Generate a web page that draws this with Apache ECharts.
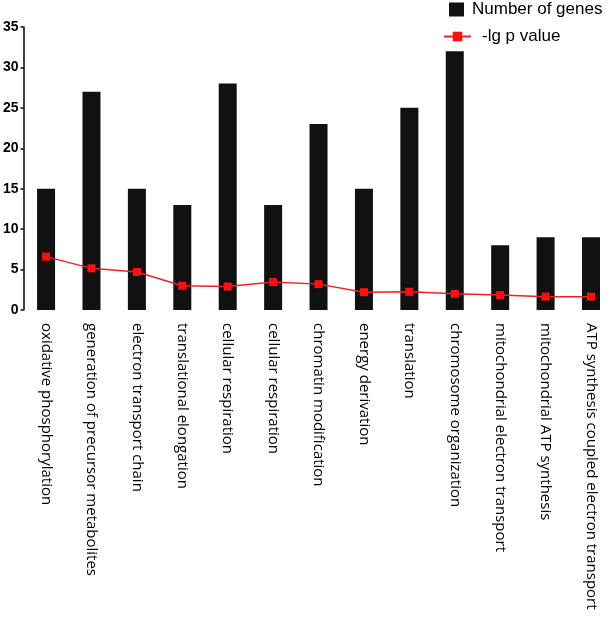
<!DOCTYPE html>
<html><head><meta charset="utf-8">
<script src="https://cdn.jsdelivr.net/npm/echarts@6/dist/echarts.min.js"></script>
<style>html,body{margin:0;padding:0;background:#fff}#c{width:607px;height:631px}</style>
</head><body><div id="c"></div>
<script>
const categories = ['oxidative phosphorylation','generation of precursor metabolites','electron transport chain','translational elongation','cellular respiration','cellular respiration','chromatin modification','energy derivation','translation','chromosome organization','mitochondrial electron transport','mitochondrial ATP synthesis','ATP synthesis coupled electron transport'];
const geneCounts = [15, 27, 15, 13, 28, 13, 23, 15, 25, 32, 8, 9, 9];
const negLogP = [6.6, 5.15, 4.7, 3.0, 2.9, 3.45, 3.2, 2.2, 2.25, 2.0, 1.85, 1.65, 1.65];
const yTicks = [0, 5, 10, 15, 20, 25, 30, 35];

const chart = echarts.init(document.getElementById('c'), null, {renderer:'canvas'});
chart.setOption({
  animation: false,
  backgroundColor: '#fff',
  legend: [
    {data:['Number of genes'], left:449, top:1, icon:'rect', itemWidth:15, itemHeight:14, padding:0,
     textStyle:{fontFamily:'Liberation Sans', fontSize:17, color:'#000', padding:[2,0,0,3]}},
    {data:['-lg p value'], left:443, top:28, itemWidth:27, itemHeight:12, padding:0,
     textStyle:{fontFamily:'Liberation Sans', fontSize:17, color:'#000', padding:[1,0,0,6]}}
  ],
  grid: {left:44.5, top:27, right:16, bottom:321, containLabel:false},
  xAxis: {
    type:'category', data:categories, boundaryGap:false,
    axisLine:{show:false}, axisTick:{show:false},
    axisLabel:{rotate:-90, interval:0, margin:13, fontFamily:'Open Sans', fontSize:15, color:'#000'}
  },
  yAxis: {
    type:'value', min:0, max:35, interval:5, offset:22.5,
    axisLine:{show:true, lineStyle:{color:'#000', width:1.5}},
    axisTick:{show:true, inside:false, length:3, lineStyle:{color:'#000', width:1.5}},
    splitLine:{show:false},
    axisLabel:{margin:5, fontFamily:'Liberation Sans', fontWeight:'bold', fontSize:14, color:'#000',
      formatter: v => yTicks.includes(v) ? String(v) : ''}
  },
  series: [
    {name:'Number of genes', type:'bar', data:geneCounts, barWidth:18, itemStyle:{color:'#111'}},
    {name:'-lg p value', type:'line', data:negLogP, symbol:'rect', symbolSize:8,
     lineStyle:{color:'#f0202a', width:1.5}, itemStyle:{color:'#ff1010'}, z:5}
  ]
});
</script></body></html>
